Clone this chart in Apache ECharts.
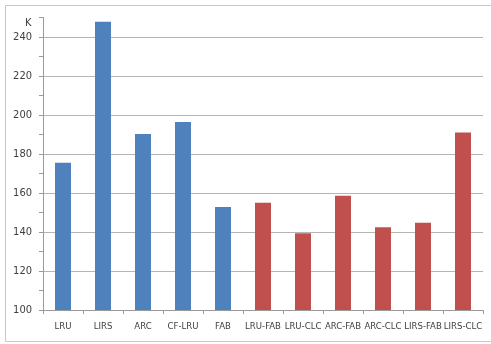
<!DOCTYPE html>
<html>
<head>
<meta charset="utf-8">
<script src="https://cdn.jsdelivr.net/npm/echarts@6/dist/echarts.min.js"></script>
<style>
  html, body { margin: 0; padding: 0; background: #fff; }
  #chart { width: 491px; height: 344px; }
</style>
</head>
<body>
<div id="chart"></div>
<script>
// categories and values
var categories = ['LRU', 'LIRS', 'ARC', 'CF-LRU', 'FAB', 'LRU-FAB', 'LRU-CLC', 'ARC-FAB', 'ARC-CLC', 'LIRS-FAB', 'LIRS-CLC'];
var values = [175.5, 247.8, 190.2, 196.4, 152.8, 155, 139.3, 158.6, 142.4, 144.8, 191];
// first five are the existing schemes (blue), the rest are combined ones (red)
var blueCount = 5;
var blue = '#4F81BD', red = '#C0504D';

var chart = echarts.init(document.getElementById('chart'), null, {renderer: 'canvas'});
var fam = "'Liberation Sans Narrow', 'DejaVu Sans Condensed', 'Liberation Sans'";
var labelFont = {color: '#404040', fontSize: 9.5, fontFamily: fam};

var option = {
  animation: false,
  backgroundColor: '#fff',
  grid: {
    left: 43,
    right: 8,
    top: 17.5,
    bottom: 34
  },
  graphic: [
    {
      type: 'rect',
      shape: {x: 5.5, y: 5.5, width: 490, height: 336},
      style: {fill: 'none', stroke: '#c8c8c8', lineWidth: 1},
      silent: true
    },
    {
      type: 'text',
      left: 25,
      top: 18,
      style: {text: 'K', fill: '#404040', font: '11px ' + fam}
    }
  ],
  xAxis: {
    type: 'category',
    data: categories,
    axisLine: {lineStyle: {color: '#9a9a9a'}},
    axisTick: {show: true, length: 4, lineStyle: {color: '#9a9a9a'}},
    axisLabel: Object.assign({margin: 12, interval: 0}, labelFont),
    splitLine: {show: false}
  },
  yAxis: {
    type: 'value',
    min: 100,
    max: 250,
    interval: 10,
    axisLine: {show: true, lineStyle: {color: '#9a9a9a'}},
    axisTick: {show: true, length: 4, lineStyle: {color: '#9a9a9a'}},
    axisLabel: Object.assign({
      margin: 11,
      // labels every 20, none at the top end
      formatter: function (v) { return (v % 20 === 0 && v < 250) ? v : ''; }
    }, labelFont, {fontSize: 11}),
    // gridlines only every 20: colours cycle per line
    splitLine: {lineStyle: {color: ['#b4b4b4', 'rgba(0,0,0,0)'], width: 1}}
  },
  series: [{
    type: 'bar',
    barWidth: '40%',
    data: values.map(function (v, i) {
      return {value: v, itemStyle: {color: i < blueCount ? blue : red}};
    })
  }]
};
chart.setOption(option);
</script>
</body>
</html>
